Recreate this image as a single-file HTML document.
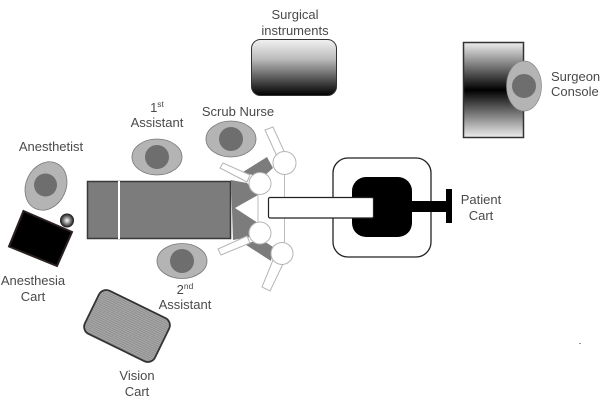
<!DOCTYPE html>
<html>
<head>
<meta charset="utf-8">
<style>
html,body{margin:0;padding:0;background:#fff;width:600px;height:405px;overflow:hidden}
svg{display:block;filter:blur(0.3px)}
text{font-family:"Liberation Sans",sans-serif;font-size:13px;fill:#4a4a4a;text-anchor:middle}
.sup{font-size:8.5px}
</style>
</head>
<body>
<svg width="600" height="405" viewBox="0 0 600 405" xmlns="http://www.w3.org/2000/svg">
<defs>
<linearGradient id="g1" x1="0" y1="0" x2="0" y2="1">
<stop offset="0" stop-color="#eee"/><stop offset=".5" stop-color="#000"/><stop offset="1" stop-color="#eee"/>
</linearGradient>
<linearGradient id="g2" x1="0" y1="0" x2="0" y2="1">
<stop offset="0" stop-color="#f2f2f2"/><stop offset=".35" stop-color="#bbb"/><stop offset="1" stop-color="#000"/>
</linearGradient>
<radialGradient id="g3"><stop offset="0" stop-color="#fff"/><stop offset=".55" stop-color="#777"/><stop offset="1" stop-color="#111"/></radialGradient>
<pattern id="p1" width="3" height="2" patternUnits="userSpaceOnUse">
<rect width="3" height="2" fill="#aaa"/><rect width="3" height="1" fill="#8e8e8e"/>
</pattern>
</defs>

<!-- Surgical instruments -->
<rect x="251.5" y="39.5" width="85" height="56" rx="9" fill="url(#g2)" stroke="#333" stroke-width="1"/>
<text x="295" y="19">Surgical</text>
<text x="295" y="35">instruments</text>

<!-- Surgeon console -->
<rect x="463.5" y="42.5" width="60" height="95" fill="url(#g1)" stroke="#333" stroke-width="1.5"/>
<ellipse cx="524" cy="86" rx="17.5" ry="25" fill="#b4b4b4" stroke="#888" stroke-width=".7"/>
<circle cx="524" cy="86" r="12" fill="#6e6e6e"/>
<text x="551" y="81" style="text-anchor:start">Surgeon</text>
<text x="551" y="96" style="text-anchor:start">Console</text>

<!-- Labels for staff -->
<text x="157" y="112">1<tspan class="sup" dy="-5">st</tspan></text>
<text x="157" y="127">Assistant</text>
<text x="238" y="116">Scrub Nurse</text>
<text x="51" y="151">Anesthetist</text>
<text x="185" y="294">2<tspan class="sup" dy="-5">nd</tspan></text>
<text x="185" y="309">Assistant</text>

<!-- Staff -->
<ellipse cx="157" cy="157" rx="25" ry="18" fill="#b4b4b4" stroke="#777" stroke-width=".8"/>
<circle cx="157" cy="157" r="12" fill="#6e6e6e"/>
<ellipse cx="231" cy="139" rx="25" ry="18" fill="#b4b4b4" stroke="#777" stroke-width=".8"/>
<circle cx="231" cy="139" r="12" fill="#6e6e6e"/>
<ellipse cx="182" cy="261" rx="25" ry="17.5" fill="#b4b4b4" stroke="#777" stroke-width=".8"/>
<circle cx="182" cy="261" r="12" fill="#6e6e6e"/>
<ellipse cx="46" cy="186" rx="20" ry="25" transform="rotate(25 46 186)" fill="#b4b4b4" stroke="#777" stroke-width=".8"/>
<circle cx="45.500" cy="185" r="11.500" fill="#6e6e6e"/>

<!-- Anesthesia cart -->
<polygon points="23.500,211 72,232 57,266 9,246.500" fill="#000" stroke="#2a2020" stroke-width="2"/>
<circle cx="67" cy="220.500" r="7" fill="url(#g3)"/>
<text x="33" y="285">Anesthesia</text>
<text x="33" y="301">Cart</text>

<!-- Vision cart -->
<rect x="88" y="302" width="78" height="48" rx="8" transform="rotate(26 127 326)" fill="url(#p1)" stroke="#333" stroke-width="1.800"/>
<text x="137" y="380">Vision</text>
<text x="137" y="396">Cart</text>

<!-- Operating table -->
<rect x="87.500" y="181.500" width="143" height="57" fill="#7c7c7c" stroke="#3c3838" stroke-width="1.500"/>
<rect x="118" y="181" width="2" height="58" fill="#fff"/>

<!-- Robot arms, grey base -->
<polygon points="231,180 247,183 258,195 235,208 258,223 250,237 233,240" fill="#7c7c7c"/>
<polygon points="243,172 267,157 273,168 262,178" fill="#7c7c7c"/>
<polygon points="243,243 253,242 267,243 273,247 271,261" fill="#7c7c7c"/>

<!-- Grey links -->
<line x1="258" y1="195" x2="258" y2="224" stroke="#bdbdbd" stroke-width="1"/>
<line x1="284.500" y1="163" x2="284.500" y2="253" stroke="#bdbdbd" stroke-width="1"/>

<!-- White bars -->
<g fill="#fff" stroke="#b5b5b5" stroke-width="1">
<polygon points="220,168 223,163 250,175 247,182"/>
<polygon points="218,249 221,255 250,243 247,236"/>
<polygon points="265,130 273,127 288,160 280,163"/>
<polygon points="273,260 283,264 270,291 262,287"/>
<circle cx="260" cy="183.500" r="11"/>
<circle cx="260" cy="233" r="11"/>
<circle cx="284.500" cy="163" r="11.500"/>
<circle cx="282" cy="253.500" r="11"/>
</g>

<!-- Patient cart -->
<rect x="333" y="158" width="98" height="99" rx="15" fill="#fff" stroke="#222" stroke-width="1.300"/>
<rect x="352" y="177" width="60" height="60" rx="14" fill="#000"/>
<rect x="411" y="201" width="36" height="11" fill="#000"/>
<rect x="446" y="189" width="6" height="34" fill="#000"/>
<rect x="268.500" y="197.500" width="105" height="20.500" rx="1.500" fill="#fff" stroke="#222" stroke-width="1.200"/>
<text x="481" y="204">Patient</text>
<text x="481" y="220">Cart</text>

<rect x="579" y="343" width="2" height="1" fill="#999"/>
</svg>
</body>
</html>
